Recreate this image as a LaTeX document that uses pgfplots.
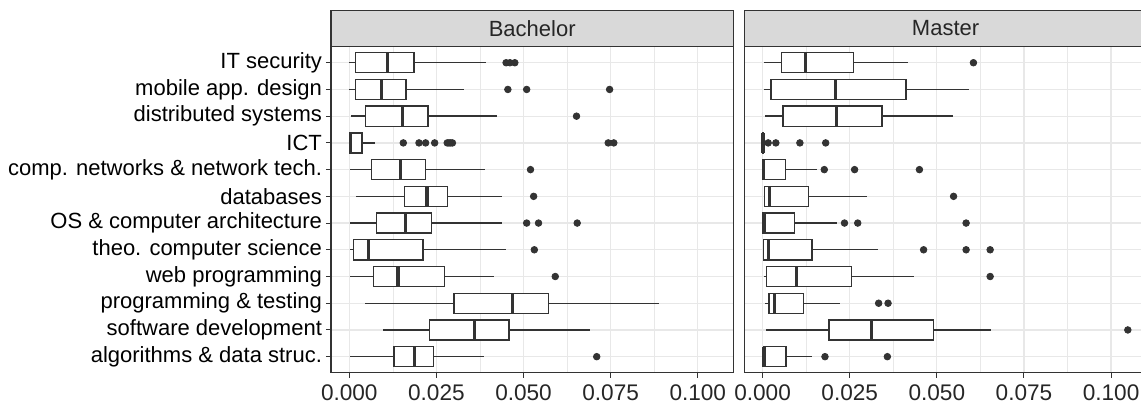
\documentclass[border=0pt]{standalone}
\usepackage{fontspec}
\setmainfont{Liberation Sans}
\usepackage{pgfplots}
\pgfplotsset{compat=1.18}
\usepgfplotslibrary{statistics}
\definecolor{gridc}{RGB}{232,232,232}
\definecolor{g20}{RGB}{51,51,51}
\definecolor{g85}{RGB}{217,217,217}
\pgfplotsset{
  panel/.style={
    scale only axis, width=201.25pt, height=163pt, anchor=south west,
    xmin=-0.00525, xmax=0.11025, ymin=0.4, ymax=12.6,
    xtick={0,0.025,0.05,0.075,0.1},
    minor x tick num=1, minor tick length=0pt,
    ytick={1,...,12},
    grid=both,
    major grid style={draw=gridc, line width=0.6pt},
    minor grid style={draw=gridc, line width=0.3pt},
    axis line style={g20, line width=0.6pt},
    tick align=outside, major tick length=2.5pt,
    tick style={g20, line width=0.5pt},
    xtick pos=bottom, ytick pos=left,
    xticklabel style={font=\fontsize{11.3}{13}\selectfont, text=black!85},
    /pgf/number format/.cd, fixed, fixed zerofill, precision=3, assume math mode=true,
    /pgfplots/.cd,
    boxplot/draw direction=x,
    boxplot/box extend=0.75,
    boxplot/whisker extend=0,
    boxplot/every box/.style={draw=g20, fill=white, line width=0.7pt},
    boxplot/every whisker/.style={draw=g20, line width=0.7pt},
    boxplot/every median/.style={draw=g20, line width=1.6pt},
  },
  outl/.style={only marks, mark=*, mark size=1.65pt, mark options={fill=g20, draw=g20}},
}
\newcommand{\bp}[6]{\addplot[boxplot prepared={draw position=#1, lower whisker=#2, lower quartile=#3, median=#4, upper quartile=#5, upper whisker=#6}] coordinates {};}
\begin{document}
\begin{tikzpicture}
\useasboundingbox (0,0) rectangle (570.5pt,202pt);
% Bachelor
\begin{axis}[panel, at={(165.5pt,15.65pt)},
  yticklabels={algorithms \& data struc., software development, programming \& testing, web programming, theo. computer science, OS \& computer architecture, databases, comp. networks \& network tech., ICT, distributed systems, mobile app. design, IT security},
  yticklabel style={font=\fontsize{11}{13}\selectfont, text=black, xshift=1.5pt}]
\bp{12}{0}{0.0018}{0.0109}{0.0186}{0.0393}
\bp{11}{0}{0.0018}{0.0092}{0.0163}{0.0329}
\bp{10}{0.0005}{0.0046}{0.0153}{0.0226}{0.0425}
\bp{9}{0}{0}{0.0004}{0.0036}{0.0075}
\bp{8}{0.0003}{0.0063}{0.0148}{0.0218}{0.0390}
\bp{7}{0.0018}{0.0159}{0.0223}{0.0281}{0.0438}
\bp{6}{0.0003}{0.0078}{0.0162}{0.0236}{0.0439}
\bp{5}{0.0002}{0.0012}{0.0055}{0.0211}{0.0450}
\bp{4}{0.0003}{0.0069}{0.0140}{0.0274}{0.0414}
\bp{3}{0.0044}{0.0300}{0.0469}{0.0572}{0.0888}
\bp{2}{0.0097}{0.0230}{0.0359}{0.0458}{0.0692}
\bp{1}{0.0002}{0.0128}{0.0186}{0.0242}{0.0386}
\addplot[outl] coordinates {
(0.0450,12) (0.0461,12) (0.0475,12)
(0.0455,11) (0.0509,11) (0.0747,11)
(0.0652,10)
(0.0155,9) (0.0200,9) (0.0219,9) (0.0245,9) (0.0281,9) (0.0286,9) (0.0291,9) (0.0296,9) (0.0743,9) (0.0759,9)
(0.0520,8)
(0.0529,7)
(0.0509,6) (0.0543,6) (0.0654,6)
(0.0531,5)
(0.0591,4)
(0.0710,1)
};
\end{axis}
\draw[fill=g85, draw=g20, line width=0.6pt] (165.5pt,178.65pt) rectangle (366.75pt,196.85pt);
\node[font=\fontsize{11}{13}\selectfont, text=black!85] at (266.1pt,187.75pt) {Bachelor};
% Master
\begin{axis}[panel, at={(372.15pt,15.65pt)}, yticklabels={}, y tick style={draw=none}]
\bp{12}{0.0004}{0.0054}{0.0123}{0.0260}{0.0418}
\bp{11}{0.0004}{0.0024}{0.0210}{0.0411}{0.0593}
\bp{10}{0.0006}{0.0058}{0.0211}{0.0343}{0.0545}
\bp{9}{0}{0}{0.0001}{0.0002}{0.0004}
\bp{8}{0}{0}{0.0002}{0.0065}{0.0157}
\bp{7}{0.0004}{0.0005}{0.0020}{0.0132}{0.0299}
\bp{6}{0}{0}{0.0004}{0.0092}{0.0214}
\bp{5}{0}{0.0002}{0.0017}{0.0142}{0.0330}
\bp{4}{0.0005}{0.0011}{0.0097}{0.0255}{0.0434}
\bp{3}{0.0006}{0.0018}{0.0035}{0.0118}{0.0222}
\bp{2}{0.0009}{0.0191}{0.0313}{0.0491}{0.0655}
\bp{1}{0}{0.0002}{0.0004}{0.0067}{0.0142}
\addplot[outl] coordinates {
(0.0605,12)
(0.0016,9) (0.0038,9) (0.0107,9) (0.0181,9)
(0.0177,8) (0.0264,8) (0.0450,8)
(0.0548,7)
(0.0235,6) (0.0273,6) (0.0584,6)
(0.0462,5) (0.0584,5) (0.0653,5)
(0.0653,4)
(0.0333,3) (0.0360,3)
(0.1048,2)
(0.0179,1) (0.0358,1)
};
\end{axis}
\draw[fill=g85, draw=g20, line width=0.6pt] (372.15pt,178.65pt) rectangle (573.4pt,196.85pt);
\node[font=\fontsize{11}{13}\selectfont, text=black!85] at (472.8pt,187.75pt) {Master};
\end{tikzpicture}
\end{document}
